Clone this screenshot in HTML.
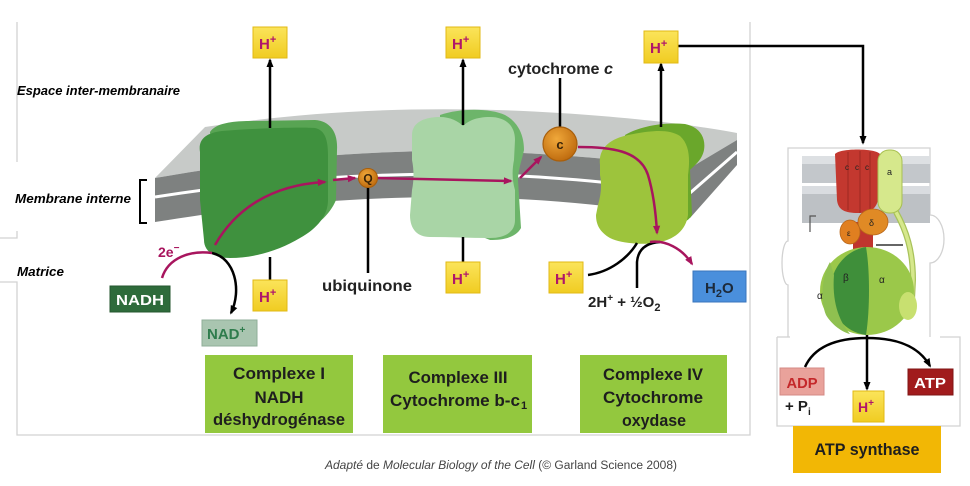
<!DOCTYPE html>
<html><head><meta charset="utf-8">
<style>
html,body{margin:0;padding:0;background:#fff;}
svg{display:block;}
text{font-family:"Liberation Sans",Arial,sans-serif;}
</style></head>
<body>
<svg width="970" height="486" viewBox="0 0 970 486" xmlns="http://www.w3.org/2000/svg">
<defs>
<marker id="ab" viewBox="0 0 10 10" refX="8" refY="5" markerWidth="9" markerHeight="9" markerUnits="userSpaceOnUse" orient="auto"><path d="M0,1 L10,5 L0,9 z" fill="#000"/></marker>
<marker id="ap" viewBox="0 0 10 10" refX="8" refY="5" markerWidth="9" markerHeight="9" markerUnits="userSpaceOnUse" orient="auto"><path d="M0,1 L10,5 L0,9 z" fill="#a8155e"/></marker>
<radialGradient id="org" cx="40%" cy="35%" r="65%"><stop offset="0" stop-color="#f0a83a"/><stop offset="1" stop-color="#c06d10"/></radialGradient>
<linearGradient id="yel" x1="0" y1="0" x2="0" y2="1"><stop offset="0" stop-color="#fbe45a"/><stop offset="1" stop-color="#f0cc22"/></linearGradient>
</defs>

<!-- frame lines -->
<g stroke="#d2d2d2" stroke-width="1.3" fill="none">
<path d="M17,22 V162"/>
<path d="M0,238 H17 V231"/>
<path d="M0,282 H17 V435 H750 V22"/>
<path d="M777,337 V426 H960 V337 H940"/>
<path d="M777,337 H790"/>
<path d="M788,337 V285 A6,22 0 0 1 788,241 V148 H930 V215 A14,24 0 0 1 930,263 V337"/>
</g>

<!-- side labels -->
<text x="17" y="95" font-size="12.5" font-weight="bold" font-style="italic" textLength="163" lengthAdjust="spacingAndGlyphs">Espace inter-membranaire</text>
<text x="15" y="203" font-size="12.5" font-weight="bold" font-style="italic" textLength="116" lengthAdjust="spacingAndGlyphs">Membrane interne</text>
<text x="17" y="276" font-size="12.5" font-weight="bold" font-style="italic" textLength="47" lengthAdjust="spacingAndGlyphs">Matrice</text>
<path d="M147,180 H140 V223 H147" stroke="#000" stroke-width="2" fill="none"/>

<!-- membrane -->
<path d="M155,178 L205,127 C300,112 420,104 560,113 C640,118 700,126 737,133 L737,140 L690,168 C620,160 540,151 440,151 C320,152 230,165 155,178 Z" fill="#c7cac8"/>
<path d="M155,178 C230,165 320,152 440,151 C540,151 620,160 690,168 L737,140 L737,165 L690,218 C620,206 540,197 440,197 C320,198 230,210 155,222 Z" fill="#7e8180"/>
<path d="M155,197 C230,185 320,175 440,174 C540,174 620,183 690,193 L737,152" stroke="#fff" stroke-width="3" fill="none"/>

<!-- Complex I -->
<path d="M210,132 C215,124 230,121 250,121 L315,120 C330,121 338,132 337,150 L336,200 C330,215 315,228 300,232 L220,240 Z" fill="#58a453"/>
<path d="M200,152 C198,140 205,133 222,131 C260,128 300,127 315,128 C325,130 328,140 328,155 L328,200 C328,215 318,228 300,238 C280,250 255,258 230,258 C212,258 204,250 204,240 L200,200 Z" fill="#3f913e"/>

<!-- Complex III -->
<path d="M440,115 C460,108 490,108 505,115 C518,122 524,135 524,150 C522,160 518,170 518,180 L521,228 C516,237 505,240 490,240 L470,232 L440,225 Z" fill="#6db56a"/>
<path d="M412,135 C412,122 425,117 440,117 C450,117 458,121 463,126 C468,121 476,117 490,117 C505,117 515,125 515,140 L514,160 C512,170 512,180 515,190 L515,220 C515,232 505,238 490,238 C470,238 450,237 430,237 C418,237 410,230 410,215 L412,190 C414,180 414,170 412,160 Z" fill="#a9d5a6"/>

<!-- Complex IV -->
<path d="M625,135 C640,126 665,122 685,124 C700,127 706,138 704,150 C702,160 695,165 690,170 L692,215 C688,222 680,225 670,225 L630,225 Z" fill="#6aa72b"/>
<path d="M600,165 C598,148 610,139 628,135 C648,131 668,128 680,136 C690,145 690,160 688,175 L688,215 C686,230 675,240 655,243 C640,245 620,243 610,238 C600,232 596,225 596,215 L598,205 C601,195 602,185 600,175 Z" fill="#9dc43c"/>

<!-- black vertical arrows -->
<g stroke="#000" stroke-width="2.5" fill="none">
<path d="M270,128 V60" marker-end="url(#ab)"/>
<path d="M270,257 V281"/>
<path d="M463,125 V60" marker-end="url(#ab)"/>
<path d="M463,237 V263"/>
<path d="M661,127 V64" marker-end="url(#ab)"/>
<path d="M678,46 H863 V143" marker-end="url(#ab)"/>
<path d="M368,186 V273"/>
<path d="M560,78 V127"/>
<path d="M212,253 C235,258 242,290 231,313" marker-end="url(#ab)"/>
<path d="M588,275 C610,272 628,258 637,243"/>
<path d="M637,288 L637,262 C638,250 645,243 660,242"/>
</g>

<!-- pink arrows -->
<g stroke="#a8155e" stroke-width="2.5" fill="none">
<path d="M215,245 C235,210 270,185 325,182" marker-end="url(#ap)"/>
<path d="M333,180 L355,178" marker-end="url(#ap)"/>
<path d="M378,178 L511,181" marker-end="url(#ap)"/>
<path d="M520,178 L541,157" marker-end="url(#ap)"/>
<path d="M578,147 C610,147 640,150 648,175 C654,195 656,215 657,233" marker-end="url(#ap)"/>
<path d="M650,242 C665,240 682,248 692,264" marker-end="url(#ap)"/>
<path d="M162,278 C168,258 190,250 212,253"/>
</g>

<!-- Q and c -->
<circle cx="368" cy="178" r="9.5" fill="url(#org)" stroke="#a85f0c" stroke-width="1"/>
<text x="368" y="182.5" font-size="12" font-weight="bold" text-anchor="middle" fill="#3a2408">Q</text>
<circle cx="560" cy="144" r="17" fill="url(#org)" stroke="#a85f0c" stroke-width="1.2"/>
<text x="560" y="149" font-size="13" font-weight="bold" text-anchor="middle" fill="#3a2408">c</text>

<text x="508" y="74" font-size="16" font-weight="bold" fill="#222" textLength="105" lengthAdjust="spacingAndGlyphs">cytochrome <tspan font-style="italic">c</tspan></text>
<text x="322" y="291" font-size="16" font-weight="bold" fill="#222" textLength="90" lengthAdjust="spacingAndGlyphs">ubiquinone</text>

<!-- H+ boxes -->
<g font-size="15" font-weight="bold" fill="#b0166a">
<rect x="253" y="27" width="34" height="31" fill="url(#yel)" stroke="#e2b914"/>
<text x="259" y="49">H<tspan dy="-6" font-size="11">+</tspan></text>
<rect x="446" y="27" width="34" height="31" fill="url(#yel)" stroke="#e2b914"/>
<text x="452" y="49">H<tspan dy="-6" font-size="11">+</tspan></text>
<rect x="644" y="31" width="34" height="32" fill="url(#yel)" stroke="#e2b914"/>
<text x="650" y="53">H<tspan dy="-6" font-size="11">+</tspan></text>
<rect x="253" y="280" width="34" height="31" fill="url(#yel)" stroke="#e2b914"/>
<text x="259" y="302">H<tspan dy="-6" font-size="11">+</tspan></text>
<rect x="446" y="262" width="34" height="31" fill="url(#yel)" stroke="#e2b914"/>
<text x="452" y="284">H<tspan dy="-6" font-size="11">+</tspan></text>
<rect x="549" y="262" width="34" height="31" fill="url(#yel)" stroke="#e2b914"/>
<text x="555" y="284">H<tspan dy="-6" font-size="11">+</tspan></text>
<rect x="853" y="391" width="31" height="31" fill="url(#yel)" stroke="#e2b914"/>
<text x="858" y="412" font-size="14">H<tspan dy="-6" font-size="10">+</tspan></text>
</g>

<!-- NADH, NAD+, 2e- -->
<text x="158" y="257" font-size="14" font-weight="bold" fill="#a8155e">2e<tspan dy="-6" font-size="10">−</tspan></text>
<rect x="110" y="286" width="60" height="26" fill="#2e6b3b" stroke="#24572f"/>
<text x="140" y="305" font-size="15" font-weight="bold" fill="#fff" text-anchor="middle" textLength="48" lengthAdjust="spacingAndGlyphs">NADH</text>
<rect x="202" y="320" width="55" height="26" fill="#a9c5b0" stroke="#8fae98"/>
<text x="207" y="339" font-size="15" font-weight="bold" fill="#2e7c4c">NAD<tspan dy="-6" font-size="10">+</tspan></text>

<!-- 2H+ + 1/2 O2, H2O -->
<text x="588" y="307" font-size="15" font-weight="bold" fill="#222">2H<tspan dy="-6" font-size="10">+</tspan><tspan dy="6"> + ½O</tspan><tspan dy="4" font-size="11">2</tspan></text>
<rect x="693" y="271" width="53" height="31" fill="#4a8fdc" stroke="#3a76bc"/>
<text x="705" y="293" font-size="15" font-weight="bold" fill="#1d2a3a">H<tspan dy="4" font-size="11">2</tspan><tspan dy="-4">O</tspan></text>

<!-- bottom green boxes -->
<g font-size="17" font-weight="bold" fill="#1e1e1e" text-anchor="middle">
<rect x="205" y="355" width="148" height="78" fill="#93c83e"/>
<text x="279" y="379" textLength="92" lengthAdjust="spacingAndGlyphs">Complexe I</text>
<text x="279" y="403" textLength="49" lengthAdjust="spacingAndGlyphs">NADH</text>
<text x="279" y="425" textLength="132" lengthAdjust="spacingAndGlyphs">déshydrogénase</text>
<rect x="383" y="355" width="149" height="78" fill="#93c83e"/>
<text x="458" y="383" textLength="99" lengthAdjust="spacingAndGlyphs">Complexe III</text>
<text x="455" y="406" textLength="130" lengthAdjust="spacingAndGlyphs">Cytochrome b-c</text>
<text x="524" y="409" font-size="11">1</text>
<rect x="580" y="355" width="147" height="78" fill="#93c83e"/>
<text x="653" y="380" textLength="100" lengthAdjust="spacingAndGlyphs">Complexe IV</text>
<text x="653" y="403" textLength="100" lengthAdjust="spacingAndGlyphs">Cytochrome</text>
<text x="654" y="426" textLength="64" lengthAdjust="spacingAndGlyphs">oxydase</text>
</g>

<!-- ATP synthase illustration -->
<g>
<rect x="802" y="156" width="128" height="27" fill="#c3c7cb"/>
<rect x="802" y="156" width="128" height="8" fill="#dde0e3"/>
<rect x="802" y="186" width="128" height="37" fill="#bdc1c5"/>
<rect x="802" y="186" width="128" height="8" fill="#d9dce0"/>
<path d="M810,232 V216 H816" stroke="#555" stroke-width="1.2" fill="none"/>
<path d="M835,154 C840,148 875,148 880,154 L878,200 C876,210 868,213 858,213 C845,213 838,210 837,200 Z" fill="#c3382f"/>
<path d="M848,152 V210 M860,151 V213 M870,152 V211" stroke="#9e2722" stroke-width="1"/>
<text x="845" y="170" font-size="8" fill="#222">c</text>
<text x="855" y="170" font-size="8" fill="#222">c</text>
<text x="865" y="170" font-size="8" fill="#222">c</text>
<path d="M896,212 C906,230 913,250 913,280 L912,300" stroke="#a8c25a" stroke-width="6" fill="none"/>
<path d="M896,212 C906,230 913,250 913,280 L912,300" stroke="#d6e88c" stroke-width="3.5" fill="none"/>
<rect x="878" y="150" width="24" height="63" rx="11" fill="#d6e88c" stroke="#a8c050"/>
<text x="887" y="175" font-size="9" fill="#222">a</text>
<rect x="853" y="222" width="20" height="32" fill="#c0352e"/>
<ellipse cx="873" cy="222" rx="15" ry="13" fill="#e08a25" stroke="#b8661a" stroke-width="0.8"/>
<ellipse cx="850" cy="232" rx="10" ry="12" fill="#e07f20" stroke="#b8661a" stroke-width="0.8"/>
<text x="869" y="226" font-size="9" fill="#222">δ</text>
<text x="847" y="236" font-size="8" fill="#222">ε</text>
<path d="M876,245 H903" stroke="#333" stroke-width="1.5"/>
<ellipse cx="867" cy="291" rx="47" ry="44" fill="#9bc84a"/>
<path d="M866,247 C848,250 832,265 830,290 C830,315 845,332 866,335 C870,310 870,270 866,247 Z" fill="#3f8f3a"/>
<path d="M830,262 C822,275 820,300 826,315 C832,325 842,332 850,334 C838,320 832,300 834,275 Z" fill="#8fc050"/>
<ellipse cx="908" cy="306" rx="9" ry="14" fill="#c8e070"/>
<text x="843" y="281" font-size="10" fill="#222">β</text>
<text x="879" y="283" font-size="10" fill="#222">α</text>
<text x="817" y="299" font-size="10" fill="#222">α</text>
</g>

<!-- ATP synthase reactions -->
<g stroke="#000" stroke-width="2.5" fill="none">
<path d="M805,367 C815,345 840,338 867,338 C895,338 918,345 930,366" marker-end="url(#ab)"/>
<path d="M867,335 V389" marker-end="url(#ab)"/>
</g>
<rect x="780" y="368" width="44" height="27" fill="#e9a29b" stroke="#d48a84"/>
<text x="802" y="388" font-size="15" font-weight="bold" fill="#c4282a" text-anchor="middle" textLength="31" lengthAdjust="spacingAndGlyphs">ADP</text>
<text x="785" y="411" font-size="15" font-weight="bold" fill="#1e1e1e">+ P<tspan dy="4" font-size="10">i</tspan></text>
<rect x="908" y="369" width="45" height="26" fill="#a11b1c" stroke="#7f1414"/>
<text x="930" y="388" font-size="15" font-weight="bold" fill="#fff" text-anchor="middle" textLength="32" lengthAdjust="spacingAndGlyphs">ATP</text>
<rect x="793" y="426" width="148" height="47" fill="#f2b705"/>
<text x="867" y="455" font-size="17" font-weight="bold" fill="#1e1e1e" text-anchor="middle" textLength="105" lengthAdjust="spacingAndGlyphs">ATP synthase</text>

<!-- caption -->
<text x="325" y="469" font-size="11.5" fill="#444" textLength="352" lengthAdjust="spacingAndGlyphs"><tspan font-style="italic">Adapté</tspan> de <tspan font-style="italic">Molecular Biology of the Cell</tspan> (© Garland Science 2008)</text>
</svg>
</body></html>
